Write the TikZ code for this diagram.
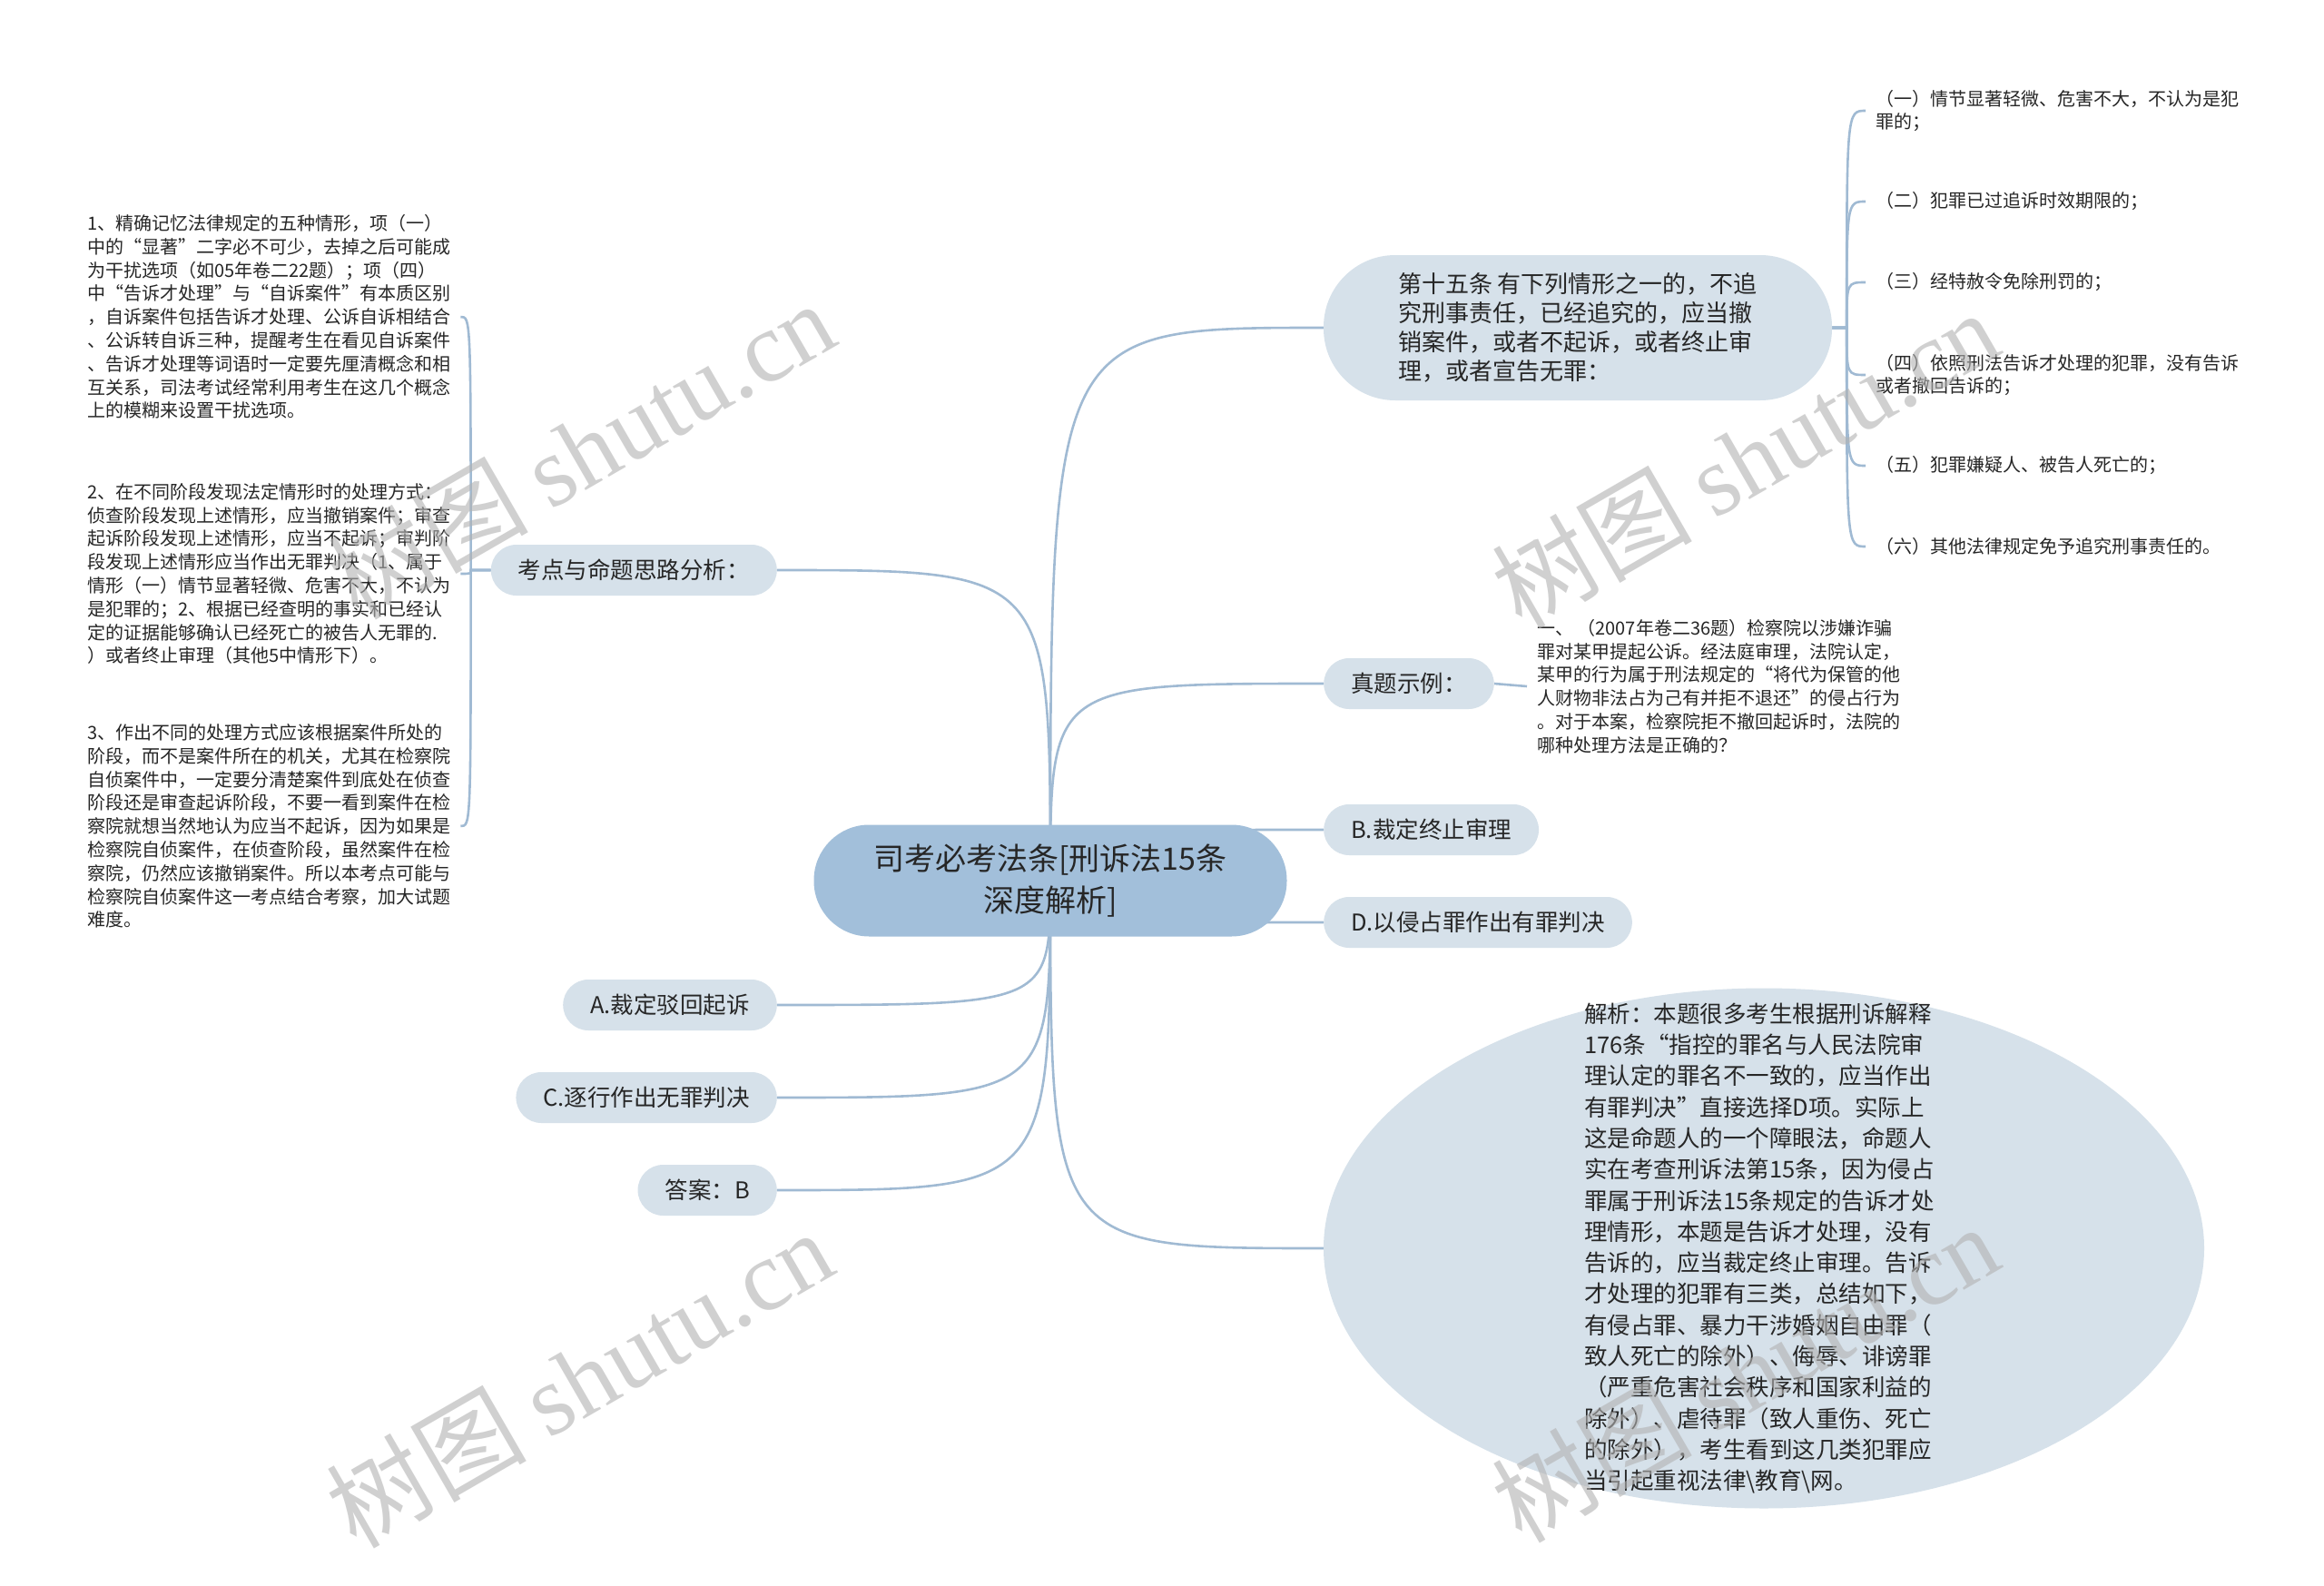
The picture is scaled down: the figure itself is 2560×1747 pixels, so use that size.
\documentclass[tikz,border=0pt]{standalone}
\usepackage{fontspec}
\setmainfont{Noto Sans CJK SC}
\newfontfamily\wmserif{Liberation Serif}
\usetikzlibrary{shapes.geometric,backgrounds,calc}
\definecolor{lnk}{HTML}{A0BAD3}
\definecolor{mainfill}{HTML}{A2BFDA}
\definecolor{subfill}{HTML}{D6E1EA}
\definecolor{txt}{HTML}{262626}
\begin{document}
\begin{tikzpicture}[x=1pt,y=-1pt,
  link/.style={draw=lnk, line width=2.6pt},
  sub/.style={rectangle, rounded corners=28pt, fill=subfill, minimum height=56pt, inner xsep=30pt, font=\fontsize{25.5}{30}\selectfont, text=txt},
  leaf/.style={align=left, inner xsep=11pt, inner ysep=2pt, font=\fontsize{20}{25.8}\selectfont, text=txt},
  wm/.style={rotate=30, text=black!30, opacity=0.6, font=\fontsize{110}{120}\selectfont}
]
\useasboundingbox (0,0) rectangle (2560,1747);

% central node
\node[rectangle, rounded corners=61pt, fill=mainfill, minimum width=521pt, minimum height=123pt, align=center, font=\fontsize{34}{46}\selectfont, text=txt] (c) at (1157,970) {司考必考法条[刑诉法15条\\深度解析]};

% left branch
\node[sub, anchor=east] (k) at (856,628) {考点与命题思路分析：};
\node[sub, anchor=east] (a) at (856,1107) {A.裁定驳回起诉};
\node[sub, anchor=east] (cc) at (856,1209) {C.逐行作出无罪判决};
\node[sub, anchor=east] (ans) at (856,1311) {答案：B};

\node[leaf, anchor=west] (k1) at (85,349) {1、精确记忆法律规定的五种情形，项（一）\\中的“显著”二字必不可少，去掉之后可能成\\为干扰选项（如05年卷二22题）；项（四）\\中“告诉才处理”与“自诉案件”有本质区别\\，自诉案件包括告诉才处理、公诉自诉相结合\\、公诉转自诉三种，提醒考生在看见自诉案件\\、告诉才处理等词语时一定要先厘清概念和相\\互关系，司法考试经常利用考生在这几个概念\\上的模糊来设置干扰选项。};
\node[leaf, anchor=west] (k2) at (85,632) {2、在不同阶段发现法定情形时的处理方式：\\侦查阶段发现上述情形，应当撤销案件；审查\\起诉阶段发现上述情形，应当不起诉；审判阶\\段发现上述情形应当作出无罪判决（1、属于\\情形（一）情节显著轻微、危害不大，不认为\\是犯罪的；2、根据已经查明的事实和已经认\\定的证据能够确认已经死亡的被告人无罪的.\\）或者终止审理（其他5中情形下）。};
\node[leaf, anchor=west] (k3) at (85,910) {3、作出不同的处理方式应该根据案件所处的\\阶段，而不是案件所在的机关，尤其在检察院\\自侦案件中，一定要分清楚案件到底处在侦查\\阶段还是审查起诉阶段，不要一看到案件在检\\察院就想当然地认为应当不起诉，因为如果是\\检察院自侦案件，在侦查阶段，虽然案件在检\\察院，仍然应该撤销案件。所以本考点可能与\\检察院自侦案件这一考点结合考察，加大试题\\难度。};

% right branch
\node[rectangle, rounded corners=79pt, fill=subfill, minimum width=560pt, minimum height=160pt, align=left, font=\fontsize{26}{32}\selectfont, text=txt] (d15) at (1738,361) {第十五条 有下列情形之一的，不追\\究刑事责任，已经追究的，应当撤\\销案件，或者不起诉，或者终止审\\理，或者宣告无罪：};
\node[leaf, anchor=west] (j1) at (2055,122) {（一）情节显著轻微、危害不大，不认为是犯\\罪的；};
\node[leaf, anchor=west] (j2) at (2055,222) {（二）犯罪已过追诉时效期限的；};
\node[leaf, anchor=west] (j3) at (2055,311) {（三）经特赦令免除刑罚的；};
\node[leaf, anchor=west] (j4) at (2055,413) {（四）依照刑法告诉才处理的犯罪，没有告诉\\或者撤回告诉的；};
\node[leaf, anchor=west] (j5) at (2055,513) {（五）犯罪嫌疑人、被告人死亡的；};
\node[leaf, anchor=west] (j6) at (2055,602) {（六）其他法律规定免予追究刑事责任的。};

\node[sub, anchor=west] (zt) at (1458,753) {真题示例：};
\node[leaf, anchor=west] (zq) at (1682,756) {一、 （2007年卷二36题）检察院以涉嫌诈骗\\罪对某甲提起公诉。经法庭审理，法院认定，\\某甲的行为属于刑法规定的“将代为保管的他\\人财物非法占为己有并拒不退还”的侵占行为\\。对于本案，检察院拒不撤回起诉时，法院的\\哪种处理方法是正确的？};

\node[sub, anchor=west] (nb) at (1458,914) {B.裁定终止审理};
\node[sub, anchor=west] (nd) at (1458,1016) {D.以侵占罪作出有罪判决};

\node[ellipse, fill=subfill, minimum width=970pt, minimum height=573pt, inner sep=0pt] (jx) at (1943,1375) {};
\node[align=left, font=\fontsize{25.5}{34.3}\selectfont, text=txt, inner sep=0pt] (jxt) at (1938,1375) {解析：本题很多考生根据刑诉解释\\176条“指控的罪名与人民法院审\\理认定的罪名不一致的，应当作出\\有罪判决”直接选择D项。实际上\\这是命题人的一个障眼法，命题人\\实在考查刑诉法第15条，因为侵占\\罪属于刑诉法15条规定的告诉才处\\理情形，本题是告诉才处理，没有\\告诉的，应当裁定终止审理。告诉\\才处理的犯罪有三类，总结如下，\\有侵占罪、暴力干涉婚姻自由罪（\\致人死亡的除外）、侮辱、诽谤罪\\（严重危害社会秩序和国家利益的\\除外）、虐待罪（致人重伤、死亡\\的除外），考生看到这几类犯罪应\\当引起重视法律\textbackslash 教育\textbackslash 网。};

\coordinate (kb) at ($(k.west)+(-22,0)$);
\coordinate (jb) at ($(d15.east)+(16,0)$);

\begin{scope}[on background layer]
\fill[white] (0,0) rectangle (2560,1747);
\draw[link] (c.center) .. controls (c.center |- d15.west) .. (d15.west);
\draw[link] (c.center) .. controls (c.center |- k.east) .. (k.east);
\draw[link] (c.center) .. controls (c.center |- zt.west) .. (zt.west);
\draw[link] (c.center) .. controls (c.center |- nb.west) .. (nb.west);
\draw[link] (c.center) .. controls (c.center |- nd.west) .. (nd.west);
\draw[link] (c.center) .. controls (c.center |- jx.west) .. (jx.west);
\draw[link] (c.center) .. controls (c.center |- a.east) .. (a.east);
\draw[link] (c.center) .. controls (c.center |- cc.east) .. (cc.east);
\draw[link] (c.center) .. controls (c.center |- ans.east) .. (ans.east);
\foreach \n in {k1,k2,k3}{
  \draw[link] (k.west) -- (kb) .. controls (kb |- \n.east) .. (\n.east);
}
\foreach \n in {j1,j2,j3,j4,j5,j6}{
  \draw[link] (d15.east) -- (jb) .. controls (jb |- \n.west) .. (\n.west);
}
\draw[link] (zt.east) -- (zq.west);
\end{scope}

% watermarks
\node[wm] (w1) at (640,495) {树图 {\wmserif shutu.cn}};
\node[wm] (w2) at (1922,505) {树图 {\wmserif shutu.cn}};
\node[wm] (w3) at (638,1518) {树图 {\wmserif shutu.cn}};
\node[wm] (w4) at (1922,1512) {树图 {\wmserif shutu.cn}};
\end{tikzpicture}
\end{document}
